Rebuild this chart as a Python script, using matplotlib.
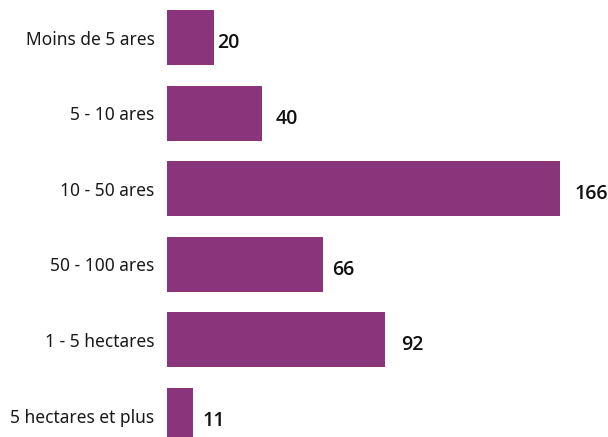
import matplotlib.pyplot as plt

categories = ['Moins de 5 ares', '5 - 10 ares', '10 - 50 ares',
              '50 - 100 ares', '1 - 5 hectares', '5 hectares et plus']
values = [20, 40, 166, 66, 92, 11]

plt.rcParams['font.family'] = ['Noto Sans', 'DejaVu Sans']

fig = plt.figure(figsize=(6.08, 4.37), dpi=100)
ax = fig.add_axes([167 / 608, 0, 441 / 608, 1])

y = list(range(len(categories)))
ax.barh(y, values, height=0.727, color='#8a357b')
ax.set_ylim(5.284, -0.496)
ax.set_xlim(0, 186.2)

ax.set_yticks(y)
ax.set_yticklabels(categories, fontsize=12.5, color='#1a1a1a')
ax.tick_params(axis='y', length=0, pad=9)
ax.set_xticks([])
for s in ax.spines.values():
    s.set_visible(False)

# petits décalages des étiquettes comme dans l'original
nudge_x = [2, 10, 10, 6, 12, 7]
for i, v in enumerate(values):
    ax.annotate(str(v), (v, i), xytext=(nudge_x[i], -4), textcoords='offset points',
                ha='left', va='center', fontsize=14, fontweight='semibold',
                family=['Open Sans', 'Lato', 'DejaVu Sans'], color='#111111')

fig.savefig('out.png', dpi=100)
